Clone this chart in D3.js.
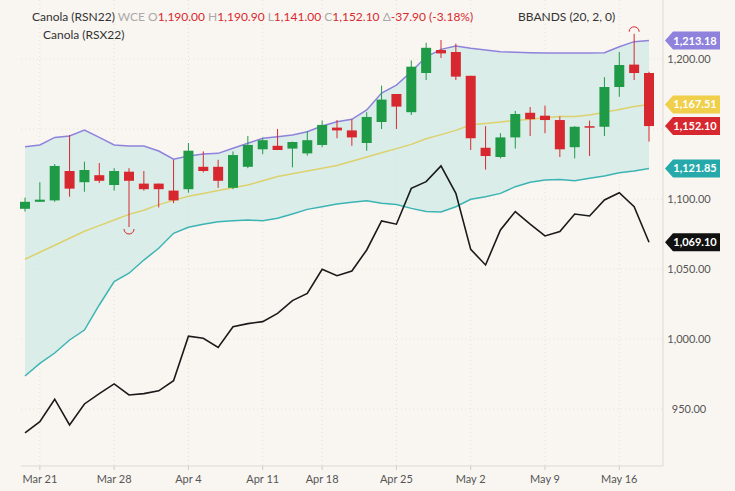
<!DOCTYPE html>
<html>
<head>
<meta charset="utf-8">
<script src="https://cdn.jsdelivr.net/npm/d3@7"></script>
<style>
  body { margin: 0; background: #f9f6f1; font-family: Lato, "Open Sans", sans-serif; }
</style>
</head>
<body>
<script>
// candles, RSN22
var open  = [1093,1098,1099,1120,1112,1117,1110,1119.5,1111,1111,1106,1107,1123,1123,1108,1123,1135.5,1138,1136,1132.6,1138.6,1151,1149,1140,1155,1175,1162,1190,1206.4,1205,1188,1136.6,1130,1144,1161.6,1159.5,1156.4,1137,1152,1151.6,1180,1196,1190];
var high  = [1101,1112,1125,1145.7,1126.6,1125.7,1122,1122,1120,1111,1128,1140,1134,1128,1134,1145,1143.6,1150,1141,1148.6,1156,1156.4,1157,1162,1181,1175,1199,1211.6,1213.6,1211,1188,1152,1147,1162.9,1165.7,1166.7,1159,1152,1156,1187,1205,1218,1190.9];
var low   = [1091,1098,1098,1101.6,1105.2,1111.4,1106,1080,1106,1094,1097,1104.5,1119,1108,1107,1122,1132,1135,1122.6,1131,1137,1143.4,1138,1134.5,1150,1150,1160,1185,1200.7,1185,1135,1121,1129,1136,1145,1147,1130,1129,1130.7,1145,1173,1185,1141];
var close = [1098,1099.5,1123.6,1107.4,1120.7,1113,1120,1113,1107,1107,1099,1134.5,1120,1113,1131.4,1138.6,1142,1135,1140.7,1142,1152.9,1149,1144,1158.6,1171,1166,1194.5,1208,1204,1187.4,1143.4,1130.7,1144,1160.7,1157,1156.4,1135.5,1151.6,1151,1180,1195.7,1190,1152.1];

// bollinger bands (20, 2, 0)
var upper  = [1137.4,1138.6,1144,1145,1149.3,1144,1138.6,1137.9,1137.9,1134.3,1128.4,1130.7,1132.1,1132.6,1136.2,1139.8,1143.4,1144.5,1145.7,1148,1152.1,1155.2,1156.9,1163.6,1175.7,1181.4,1190.9,1201.6,1206.9,1209.3,1207.6,1206.4,1205.2,1204.8,1204.5,1204.3,1204.3,1204.2,1204.3,1204.5,1208.8,1212.4,1213.18];
var middle = [1057,1062,1067,1072,1077,1081,1085,1089,1092,1096,1099,1102,1104,1106,1108,1110,1113,1116,1118,1120,1122,1124,1127,1130,1133,1136,1139,1143,1146,1149,1153,1154,1155,1156,1157,1158,1159,1159,1160,1162,1164,1166,1167.51];
var lower  = [973.6,982.6,990,999.3,1006.4,1024.3,1041,1047,1056.4,1064.8,1075.5,1079.8,1082,1083.8,1084.5,1085,1084.5,1086.2,1089.3,1092.6,1094.5,1096.4,1097.6,1098.8,1096.9,1096,1093.3,1091,1090.7,1094.5,1099.8,1101.6,1104,1108.8,1112,1113.6,1114,1113,1114.8,1116.4,1118.8,1120,1121.85];

// comparison, RSX22
var rsx = [933,941,957,938.6,953.6,961,967.9,960,961,963,970.2,1002,1000.5,994,1008.8,1011,1012.4,1018.3,1027.4,1032.6,1049.8,1045.2,1048.6,1063.6,1084.3,1082,1107.6,1112.4,1123.6,1104,1064,1052.9,1077.9,1091,1082,1073.6,1076.7,1089.3,1087.9,1099.3,1104.5,1094.5,1069.1];

var dateTicks = [1, 6, 11, 16, 20, 25, 30, 35, 40];
var dateLabels = ['Mar 21','Mar 28','Apr 4','Apr 11','Apr 18','Apr 25','May 2','May 9','May 16'];
var priceTicks = [950, 1000, 1050, 1100, 1150, 1200];

var W = 735, H = 491, left = 21, right = 663, bottom = 466;
var svg = d3.select('body').append('svg').attr('width', W).attr('height', H);

var x = d3.scaleLinear().domain([0, 42]).range([25, 649]);
var y = d3.scaleLinear().domain([950, 1200]).range([409, 59]);
var fmt = d3.format(',.2f');

svg.append('rect').attr('width', W).attr('height', H).attr('fill', '#f9f6f1');

// grid
svg.selectAll('.hg').data(priceTicks).enter().append('line')
  .attr('x1', left).attr('x2', right)
  .attr('y1', function(d){ return y(d); }).attr('y2', function(d){ return y(d); })
  .attr('stroke', '#e4e0da').attr('stroke-dasharray', '1,3');
svg.selectAll('.vg').data(dateTicks).enter().append('line')
  .attr('x1', function(d){ return x(d); }).attr('x2', function(d){ return x(d); })
  .attr('y1', 0).attr('y2', bottom)
  .attr('stroke', '#e4e0da').attr('stroke-dasharray', '1,3');

var idx = d3.range(open.length);

// band fill
svg.append('path')
  .datum(idx)
  .attr('d', d3.area().x(function(i){ return x(i); }).y0(function(i){ return y(lower[i]); }).y1(function(i){ return y(upper[i]); }))
  .attr('fill', '#cfe9e4').attr('opacity', 0.75);

function line(arr, color, w) {
  svg.append('path').datum(idx)
    .attr('d', d3.line().x(function(i){ return x(i); }).y(function(i){ return y(arr[i]); }))
    .attr('fill', 'none').attr('stroke', color).attr('stroke-width', w);
}
line(upper, '#8e82dc', 1.5);
line(middle, '#ddd16e', 1.5);
line(lower, '#3cb4b4', 1.5);
line(rsx, '#1a1a1a', 1.6);

// candles
var bw = 10;
var c = svg.selectAll('.candle').data(idx).enter().append('g');
c.append('line')
  .attr('x1', function(i){ return x(i); }).attr('x2', function(i){ return x(i); })
  .attr('y1', function(i){ return y(high[i]); }).attr('y2', function(i){ return y(low[i]); })
  .attr('stroke', function(i){ return close[i] >= open[i] ? '#1f9a47' : '#d8282f'; })
  .attr('stroke-width', 1);
c.append('rect')
  .attr('x', function(i){ return x(i) - bw / 2; })
  .attr('width', bw)
  .attr('y', function(i){ return y(Math.max(open[i], close[i])); })
  .attr('height', function(i){ return Math.max(1.5, Math.abs(y(open[i]) - y(close[i]))); })
  .attr('fill', function(i){ return close[i] >= open[i] ? '#1f9a47' : '#d8282f'; });

// high / low markers
var lo = d3.minIndex(low), hi = d3.maxIndex(high);
svg.append('path')
  .attr('d', 'M' + (x(lo) - 5) + ',' + (y(low[lo]) + 2) + ' a5,5 0 0,0 10,0')
  .attr('fill', 'none').attr('stroke', '#d8282f');
svg.append('path')
  .attr('d', 'M' + (x(hi) - 5) + ',' + (y(high[hi]) - 2) + ' a5,5 0 0,1 10,0')
  .attr('fill', 'none').attr('stroke', '#d8282f');

// axes frame
svg.append('line').attr('x1', right).attr('x2', right).attr('y1', 0).attr('y2', bottom).attr('stroke', '#ddd9d3');
svg.append('line').attr('x1', left).attr('x2', right).attr('y1', bottom).attr('y2', bottom).attr('stroke', '#ddd9d3');

svg.selectAll('.pt').data(priceTicks.filter(function(d){ return d !== 1150; })).enter().append('text')
  .attr('x', 689).attr('y', function(d){ return y(d) + 4; })
  .attr('text-anchor', 'middle').attr('font-size', 11).attr('fill', '#555')
  .text(function(d){ return fmt(d); });

svg.selectAll('.dt').data(dateTicks).enter().append('text')
  .attr('x', function(d){ return x(d); }).attr('y', 483)
  .attr('text-anchor', 'middle').attr('font-size', 11).attr('fill', '#555')
  .text(function(d, i){ return dateLabels[i]; });
svg.selectAll('.dtk').data(dateTicks).enter().append('line')
  .attr('x1', function(d){ return x(d); }).attr('x2', function(d){ return x(d); })
  .attr('y1', bottom).attr('y2', bottom + 4).attr('stroke', '#ccc');

// value tags
var last = open.length - 1;
var tags = [
  { v: upper[last], color: '#8e82dc' },
  { v: middle[last], color: '#f0cf4a' },
  { v: close[last], color: '#d8282f' },
  { v: lower[last], color: '#26a9aa' },
  { v: rsx[last], color: '#111' }
];
tags.forEach(function(t) {
  var ty = y(t.v), x0 = 665;
  svg.append('path')
    .attr('d', 'M' + x0 + ',' + ty + ' L' + (x0 + 8) + ',' + (ty - 9) + ' H720 V' + (ty + 9) + ' H' + (x0 + 8) + ' Z')
    .attr('fill', t.color);
  svg.append('text').attr('x', 695).attr('y', ty + 4)
    .attr('text-anchor', 'middle').attr('font-size', 11).attr('font-weight', 'bold')
    .attr('fill', '#fff').text(fmt(t.v));
});

// header
var h = svg.append('text').attr('x', 32).attr('y', 21).attr('font-size', 12);
h.append('tspan').attr('fill', '#333').text('Canola (RSN22) ');
h.append('tspan').attr('fill', '#aaa').text('WCE ');
var parts = [['O', open[last]], ['H', high[last]], ['L', low[last]], ['C', close[last]]];
parts.forEach(function(p) {
  h.append('tspan').attr('fill', '#aaa').text(p[0]);
  h.append('tspan').attr('fill', '#d8282f').text(fmt(p[1]) + ' ');
});
h.append('tspan').attr('fill', '#aaa').text('Δ');
h.append('tspan').attr('fill', '#d8282f').text('-37.90 (-3.18%)');
svg.append('text').attr('x', 518).attr('y', 21).attr('font-size', 12).attr('fill', '#333').text('BBANDS (20, 2, 0)');
svg.append('text').attr('x', 43).attr('y', 39).attr('font-size', 12).attr('fill', '#333').text('Canola (RSX22)');
</script>
</body>
</html>
